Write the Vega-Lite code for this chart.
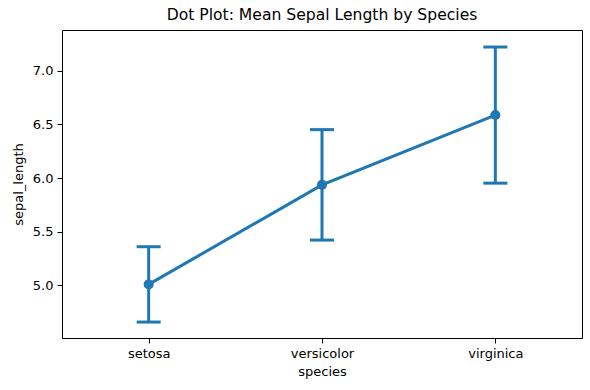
{
  "$schema": "https://vega.github.io/schema/vega-lite/v6.json",
  "width": 520,
  "height": 308,
  "autosize": {"type": "none"},
  "padding": {"left": 62, "top": 30, "right": 8, "bottom": 52},
  "background": "white",
  "title": {"text": "Dot Plot: Mean Sepal Length by Species", "fontSize": 15.6, "font": "DejaVu Sans", "fontWeight": "normal", "color": "black", "offset": 6},
  "data": {"values": [
    {"species": "setosa", "mean": 5.006, "lo": 4.654, "hi": 5.358},
    {"species": "versicolor", "mean": 5.936, "lo": 5.420, "hi": 6.452},
    {"species": "virginica", "mean": 6.588, "lo": 5.952, "hi": 7.224}
  ]},
  "encoding": {
    "x": {"field": "species", "type": "nominal", "sort": null,
      "scale": {"type": "point", "padding": 0.5},
      "axis": {"title": "species", "labelAngle": 0}}
  },
  "layer": [
    {"mark": {"type": "rule", "color": "#1f77b4", "strokeWidth": 3},
     "encoding": {"y": {"field": "lo", "type": "quantitative"}, "y2": {"field": "hi"}}},
    {"mark": {"type": "tick", "color": "#1f77b4", "thickness": 3, "size": 24, "orient": "horizontal", "opacity": 1},
     "encoding": {"y": {"field": "lo", "type": "quantitative"}}},
    {"mark": {"type": "tick", "color": "#1f77b4", "thickness": 3, "size": 24, "orient": "horizontal", "opacity": 1},
     "encoding": {"y": {"field": "hi", "type": "quantitative"}}},
    {"mark": {"type": "line", "color": "#1f77b4", "strokeWidth": 3},
     "encoding": {"y": {"field": "mean", "type": "quantitative",
       "scale": {"domain": [4.505, 7.383], "zero": false, "nice": false},
       "axis": {"title": "sepal_length", "values": [5.0, 5.5, 6.0, 6.5, 7.0], "format": ".1f"}}}},
    {"mark": {"type": "point", "filled": true, "color": "#1f77b4", "size": 100, "opacity": 1},
     "encoding": {"y": {"field": "mean", "type": "quantitative"}}}
  ],
  "config": {
    "font": "DejaVu Sans",
    "view": {"stroke": "black", "strokeWidth": 1},
    "axis": {
      "grid": false,
      "domain": false,
      "tickColor": "black",
      "tickSize": 5,
      "labelColor": "black",
      "labelFontSize": 13,
      "labelFont": "DejaVu Sans",
      "labelPadding": 4,
      "titleFont": "DejaVu Sans",
      "titleFontSize": 13,
      "titleFontWeight": "normal",
      "titleColor": "black"
    },
    "axisY": {"titlePadding": 7},
    "axisX": {"titlePadding": 5}
  }
}
